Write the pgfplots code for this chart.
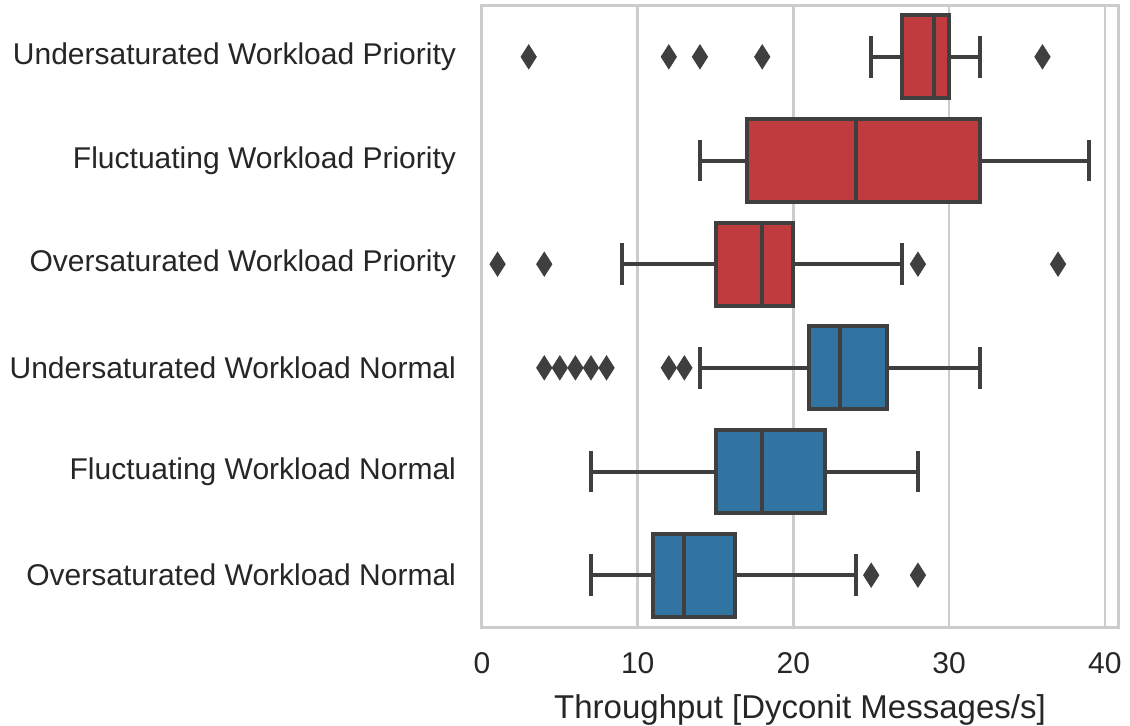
\documentclass[border=0pt]{standalone}
\usepackage{pgfplots}
\pgfplotsset{compat=1.18}
\usepgfplotslibrary{statistics}
\usepackage{fontspec}
\setmainfont{Liberation Sans}
\definecolor{pred}{HTML}{BF3B3D}
\definecolor{nblue}{HTML}{3274A1}
\definecolor{edge}{HTML}{3F3F3F}
\definecolor{gridc}{HTML}{CCCCCC}
\definecolor{txt}{HTML}{262626}
\begin{document}
\begin{tikzpicture}[font=\fontsize{15}{18}\selectfont]
\path[use as bounding box] (-241pt,-49pt) rectangle (324pt,313.5pt);
\begin{axis}[
  scale only axis, width=318pt, height=311pt,
  xmin=0, xmax=40.85, ymin=-0.5, ymax=5.5,
  xtick={0,10,20,30,40},
  ytick={0,1,2,3,4,5},
  yticklabels={Oversaturated Workload Normal, Fluctuating Workload Normal, Undersaturated Workload Normal, Oversaturated Workload Priority, Fluctuating Workload Priority, Undersaturated Workload Priority},
  xmajorgrids, ymajorgrids=false,
  major grid style={draw=gridc, line width=1.2pt},
  axis line style={draw=gridc, line width=1.5pt},
  major tick length=0pt,
  tick style={draw=none},
  /pgf/number format/assume math mode=true,
  ticklabel style={text=txt, font=\fontsize{15}{18}\selectfont},
  xticklabel style={yshift=-9pt},
  yticklabel style={xshift=-9.5pt},
  xlabel={Throughput [Dyconit Messages/s]},
  xlabel style={font=\fontsize{16.5}{20}\selectfont, text=txt, at={(axis description cs:0.5,0)}, anchor=center, yshift=-41.5pt},
  boxplot/draw direction=x,
  boxplot/whisker extend=0.4,
  boxplot/box extend=0.8,
  clip=false,
  outl/.style={mark=diamond*, mark size=6pt, mark options={fill=edge, draw=edge, line width=0.4pt, xscale=0.85, solid}},
]
% Undersaturated Workload Priority
\addplot[boxplot prepared={draw position=5, lower whisker=25, lower quartile=27, median=29, upper quartile=30, upper whisker=32}, fill=pred, draw=edge, line width=2pt, outl]
  table[row sep=\\, y index=0] {x\\3\\12\\14\\18\\36\\};
% Fluctuating Workload Priority
\addplot[boxplot prepared={draw position=4, lower whisker=14, lower quartile=17, median=24, upper quartile=32, upper whisker=39}, fill=pred, draw=edge, line width=2pt, outl]
  coordinates {};
% Oversaturated Workload Priority
\addplot[boxplot prepared={draw position=3, lower whisker=9, lower quartile=15, median=18, upper quartile=20, upper whisker=27}, fill=pred, draw=edge, line width=2pt, outl]
  table[row sep=\\, y index=0] {x\\1\\4\\28\\37\\};
% Undersaturated Workload Normal
\addplot[boxplot prepared={draw position=2, lower whisker=14, lower quartile=21, median=23, upper quartile=26, upper whisker=32}, fill=nblue, draw=edge, line width=2pt, outl]
  table[row sep=\\, y index=0] {x\\4\\5\\6\\7\\8\\12\\13\\};
% Fluctuating Workload Normal
\addplot[boxplot prepared={draw position=1, lower whisker=7, lower quartile=15, median=18, upper quartile=22, upper whisker=28}, fill=nblue, draw=edge, line width=2pt, outl]
  coordinates {};
% Oversaturated Workload Normal
\addplot[boxplot prepared={draw position=0, lower whisker=7, lower quartile=11, median=13, upper quartile=16.25, upper whisker=24}, fill=nblue, draw=edge, line width=2pt, outl]
  table[row sep=\\, y index=0] {x\\25\\28\\};
\end{axis}
\end{tikzpicture}
\end{document}
